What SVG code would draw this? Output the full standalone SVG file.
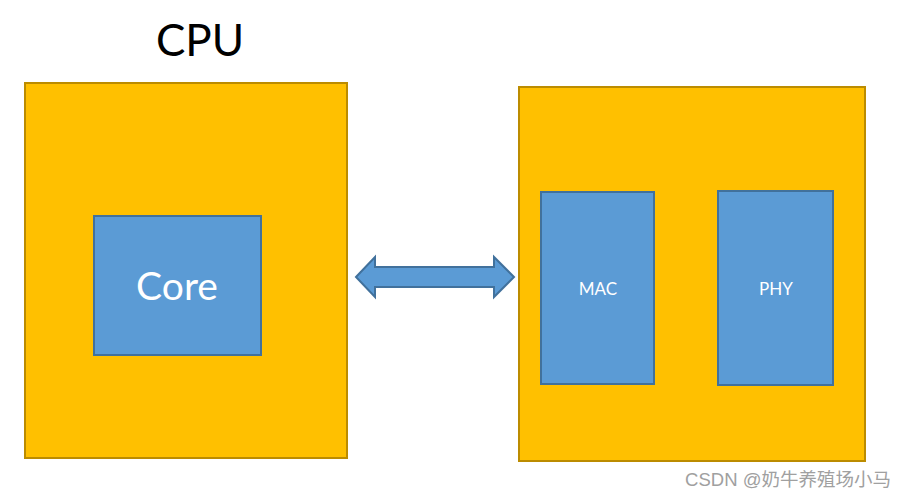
<svg xmlns="http://www.w3.org/2000/svg" width="907" height="498" viewBox="0 0 907 498">
<style>
.outer{fill:#FFC000;stroke:#BC8C00;stroke-width:2}
.inner{fill:#5B9BD5;stroke:#41719C;stroke-width:2}
.t{font-family:"Lato","Open Sans",sans-serif;text-anchor:middle}
.w{fill:#FFFFFF}
</style>
<rect width="907" height="498" fill="#FFFFFF"/>
<g id="cpu-label"><text class="t" x="200" y="56" font-size="44" fill="#000000">CPU</text></g>
<g id="cpu"><rect class="outer" x="25" y="83" width="322" height="375"/></g>
<g id="core"><rect class="inner" x="94" y="216" width="167" height="139"/><text class="t w" x="177" y="300" font-size="39">Core</text></g>
<g id="nic"><rect class="outer" x="519" y="87" width="346" height="374"/></g>
<g id="mac"><rect class="inner" x="541" y="192" width="113" height="192"/><text class="t w" x="598" y="295" font-size="17">MAC</text></g>
<g id="phy"><rect class="inner" x="718" y="191" width="115" height="194"/><text class="t w" x="776" y="295" font-size="17">PHY</text></g>
<g id="connectors"><polygon class="inner" points="356,277 375,257 375,267 494,267 494,257 514,277 494,297 494,287 375,287 375,297"/></g>
<text x="788" y="486" font-family="'Liberation Sans','Noto Sans CJK SC',sans-serif" font-size="18.5" fill="#A0A0A0" text-anchor="middle">CSDN @奶牛养殖场小马</text>
</svg>
